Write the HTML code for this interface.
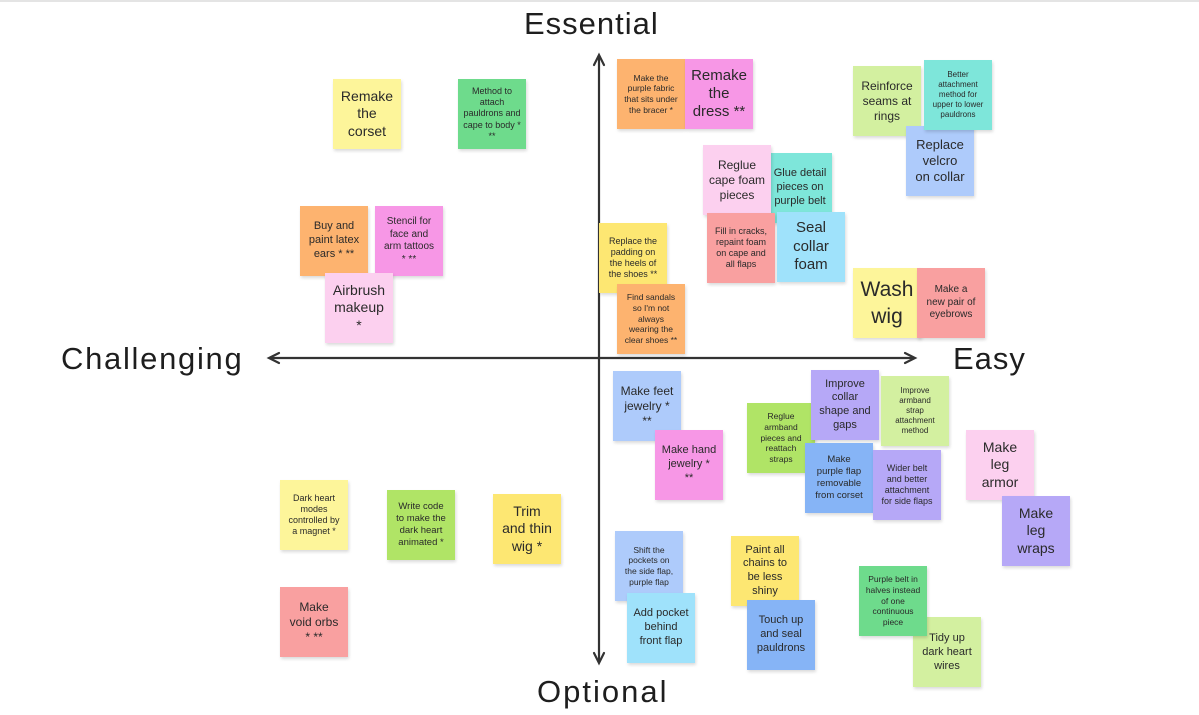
<!DOCTYPE html>
<html><head><meta charset="utf-8"><style>
html,body{margin:0;padding:0}
body{width:1199px;height:713px;position:relative;background:#fff;overflow:hidden;font-family:"Liberation Sans","DejaVu Sans",sans-serif;border-top:2px solid #e4e4e4;box-sizing:border-box}
.n{position:absolute;width:68px;height:70px;display:flex;align-items:center;justify-content:center;text-align:center;color:#2a2a2a;line-height:1.25;box-shadow:1px 2px 3px rgba(0,0,0,.15);box-sizing:border-box;white-space:nowrap;overflow:visible}
.lbl{position:absolute;font-size:31px;color:#1e1e1e;white-space:nowrap}
.y{background:#fdf59a}.yd{background:#fde772}.g{background:#6edb8c}.lg{background:#d3f0a0}.li{background:#b0e466}
.o{background:#fdb36f}.m{background:#f797e6}.p{background:#fcd0ef}.t{background:#7ee6da}
.b{background:#aecbfb}.bd{background:#86b4f6}.lb{background:#9fe2fb}.s{background:#f9a0a0}.pu{background:#b6a8f7}
</style></head><body>
<svg width="1199" height="713" style="position:absolute;left:0;top:0">
<g stroke="#333" stroke-width="2.2" fill="none" stroke-linecap="round">
<line x1="599" y1="54" x2="599" y2="660"/>
<line x1="270" y1="356" x2="914" y2="356"/>
<polyline points="594,63 599,53 604,63"/>
<polyline points="594,651 599,661 604,651"/>
<polyline points="279,351 269,356 279,361"/>
<polyline points="905,351 915,356 905,361"/>
</g></svg>
<div class="lbl" style="left:524px;top:4px;letter-spacing:1px">Essential</div>
<div class="lbl" style="left:537px;top:672px;letter-spacing:2px">Optional</div>
<div class="lbl" style="left:61px;top:339px;letter-spacing:1.7px">Challenging</div>
<div class="lbl" style="left:953px;top:339px;letter-spacing:1px">Easy</div>

<div class="n y" style="left:333px;top:77px;font-size:14px">Remake<br>the<br>corset</div>
<div class="n g" style="left:458px;top:77px;font-size:9px">Method to<br>attach<br>pauldrons and<br>cape to body *<br>**</div>
<div class="n o" style="left:300px;top:204px;font-size:11px">Buy and<br>paint latex<br>ears * **</div>
<div class="n m" style="left:375px;top:204px;font-size:10px">Stencil for<br>face and<br>arm tattoos<br>* **</div>
<div class="n p" style="left:325px;top:271px;font-size:14px">Airbrush<br>makeup<br>*</div>

<div class="n o" style="left:617px;top:57px;font-size:8.5px">Make the<br>purple fabric<br>that sits under<br>the bracer *</div>
<div class="n m" style="left:685px;top:57px;font-size:15px;line-height:1.2">Remake<br>the<br>dress **</div>
<div class="n lg" style="left:853px;top:64px;font-size:12px">Reinforce<br>seams at<br>rings</div>
<div class="n b" style="left:906px;top:124px;font-size:13px">Replace<br>velcro<br>on collar</div>
<div class="n t" style="left:924px;top:58px;font-size:8px">Better<br>attachment<br>method for<br>upper to lower<br>pauldrons</div>
<div class="n t" style="left:768px;top:151px;width:64px;font-size:11px">Glue detail<br>pieces on<br>purple belt</div>
<div class="n p" style="left:703px;top:143px;font-size:12px">Reglue<br>cape foam<br>pieces</div>
<div class="n s" style="left:707px;top:211px;font-size:9px">Fill in cracks,<br>repaint foam<br>on cape and<br>all flaps</div>
<div class="n lb" style="left:777px;top:210px;font-size:15px">Seal<br>collar<br>foam</div>
<div class="n yd" style="left:599px;top:221px;font-size:9px">Replace the<br>padding on<br>the heels of<br>the shoes **</div>
<div class="n o" style="left:617px;top:282px;font-size:8.5px">Find sandals<br>so I'm not<br>always<br>wearing the<br>clear shoes **</div>
<div class="n y" style="left:853px;top:266px;font-size:21px;line-height:1.3">Wash<br>wig</div>
<div class="n s" style="left:917px;top:266px;font-size:10px">Make a<br>new pair of<br>eyebrows</div>

<div class="n b" style="left:613px;top:369px;font-size:12px">Make feet<br>jewelry *<br>**</div>
<div class="n m" style="left:655px;top:428px;font-size:11px">Make hand<br>jewelry *<br>**</div>
<div class="n li" style="left:747px;top:401px;font-size:8.5px">Reglue<br>armband<br>pieces and<br>reattach<br>straps</div>
<div class="n pu" style="left:811px;top:368px;font-size:11px">Improve<br>collar<br>shape and<br>gaps</div>
<div class="n lg" style="left:881px;top:374px;font-size:8px">Improve<br>armband<br>strap<br>attachment<br>method</div>
<div class="n bd" style="left:805px;top:441px;font-size:9.5px">Make<br>purple flap<br>removable<br>from corset</div>
<div class="n pu" style="left:873px;top:448px;font-size:9px">Wider belt<br>and better<br>attachment<br>for side flaps</div>
<div class="n p" style="left:966px;top:428px;font-size:14px">Make<br>leg<br>armor</div>
<div class="n pu" style="left:1002px;top:494px;font-size:14px">Make<br>leg<br>wraps</div>
<div class="n b" style="left:615px;top:529px;font-size:8.5px">Shift the<br>pockets on<br>the side flap,<br>purple flap</div>
<div class="n lb" style="left:627px;top:591px;font-size:11px">Add pocket<br>behind<br>front flap</div>
<div class="n yd" style="left:731px;top:534px;font-size:11px">Paint all<br>chains to<br>be less<br>shiny</div>
<div class="n bd" style="left:747px;top:598px;font-size:11px">Touch up<br>and seal<br>pauldrons</div>
<div class="n lg" style="left:913px;top:615px;font-size:11px;padding-top:2px">Tidy up<br>dark heart<br>wires</div>
<div class="n g" style="left:859px;top:564px;font-size:8.5px">Purple belt in<br>halves instead<br>of one<br>continuous<br>piece</div>

<div class="n y" style="left:280px;top:478px;font-size:9px">Dark heart<br>modes<br>controlled by<br>a magnet *</div>
<div class="n li" style="left:387px;top:488px;font-size:9.5px">Write code<br>to make the<br>dark heart<br>animated *</div>
<div class="n yd" style="left:493px;top:492px;font-size:14px">Trim<br>and thin<br>wig *</div>
<div class="n s" style="left:280px;top:585px;font-size:12px">Make<br>void orbs<br>* **</div>
</body></html>
